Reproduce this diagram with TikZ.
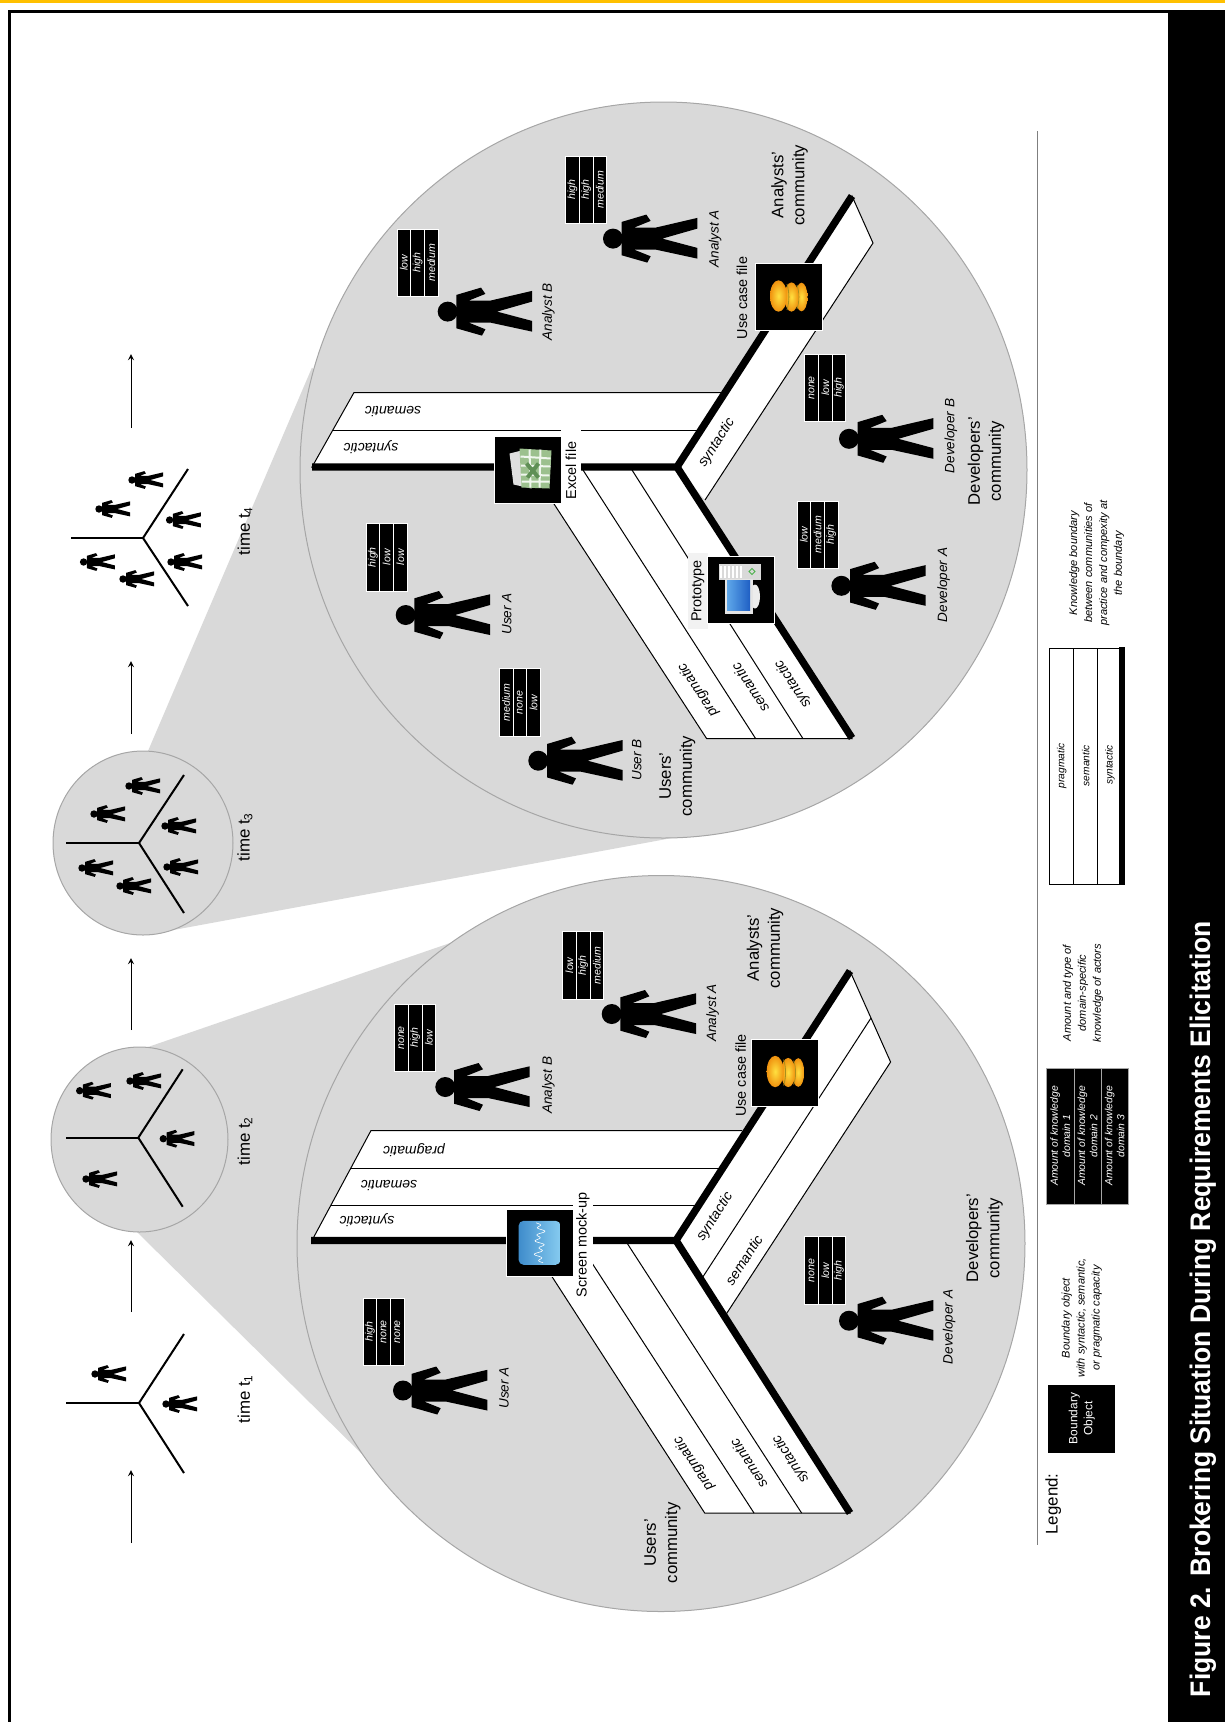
\documentclass[tikz,border=0pt]{standalone}
\usepackage{fontspec}
\setmainfont{Liberation Sans}
\definecolor{cloudgray}{HTML}{D9D9D9}
\definecolor{rimgray}{HTML}{A6A6A6}
\definecolor{rulegray}{HTML}{7F7F7F}
\definecolor{topbar}{HTML}{FFC000}
\definecolor{coinedge}{HTML}{F0920F}
\definecolor{coinglow}{HTML}{FFE040}
\definecolor{coinseam}{HTML}{A8901C}
\definecolor{sheetgreen}{HTML}{9CC08E}
\definecolor{sheetmark}{HTML}{5F8F55}
\definecolor{screenblue}{HTML}{3F8CCB}
\definecolor{screenpale}{HTML}{86CBF0}
\definecolor{protoblue}{HTML}{1F5FC4}
\definecolor{protopale}{HTML}{5FA8EA}
\tikzset{
  actor/.pic={
    \fill (0,0) circle [radius=10];
    \fill (8.7,-16.7) -- (33.3,-24) -- (37.7,-17.7) -- (21,-11) -- (42.7,-11)
      -- (84.3,-20.7) -- (84.3,-10) -- (49.3,0) -- (84.3,9.3) -- (84.3,20)
      -- (42.7,11) -- (21,11) -- (37.7,17.7) -- (34.3,24) -- (8.7,16.7) -- cycle;
  },
  coins/.pic={
    \shade[inner color=coinglow, outer color=coinedge] (13,0) circle [x radius=6, y radius=14.3];
    \draw[coinseam, line width=0.016cm] (8.5,-12) .. controls (11,-4) and (11,4) .. (8.5,12);
    \shade[inner color=coinglow, outer color=coinedge] (3,0) circle [x radius=7, y radius=14.6];
    \draw[coinseam, line width=0.016cm] (-1.5,-13) .. controls (1,-4) and (1,4) .. (-1.5,13);
    \shade[inner color=coinglow, outer color=coinedge] (-10,-1) circle [x radius=8.5, y radius=15.7];
  },
  cell/.style={draw=white, fill=black, text=white, rotate=90, inner sep=0pt,
    minimum width=1.35cm, minimum height=0.274cm,
    font=\fontsize{6}{6}\selectfont\itshape},
  who/.style={rotate=90, font=\fontsize{7.7}{9}\selectfont\itshape},
  community/.style={rotate=90, align=center, inner sep=0pt,
    font=\fontsize{9.5}{12}\selectfont},
  capacity/.style={font=\fontsize{8}{9}\selectfont\itshape, inner sep=0pt},
  moment/.style={rotate=90, inner sep=0pt, font=\fontsize{9.6}{11}\selectfont},
  iconbox/.style={draw=white, fill=black, minimum size=1.34cm, inner sep=0pt},
  objlabel/.style={rotate=90, inner sep=0pt, font=\fontsize{8.2}{9}\selectfont},
  legendnote/.style={rotate=90, align=center, inner sep=0pt,
    font=\fontsize{6.3}{8.5}\selectfont\itshape},
  legendcell/.style={draw=rimgray, fill=black, text=white, rotate=90, align=center,
    inner sep=0pt, minimum width=2.72cm, minimum height=0.544cm,
    font=\fontsize{5.9}{6.9}\selectfont\itshape},
  legendtag/.style={rotate=90, inner sep=0pt, font=\fontsize{5.8}{7}\selectfont\itshape},
  bigline/.style={line width=0.146cm},
  minline/.style={line width=0.04cm},
  thinline/.style={line width=0.02cm}
}
% knowledge stack: name, left, top, three amounts
\newcommand{\kstack}[6]{
  \node[cell] (#1a) at (#2+6.85,#3+33.85) {#4};
  \node[cell] (#1b) at (#2+20.55,#3+33.85) {#5};
  \node[cell] (#1c) at (#2+34.25,#3+33.85) {#6};
}
% small boundary: centre, left end, upper end, lower end
\newcommand{\minifork}[7]{
  \draw[minline] (#2,#3) -- (66+#1,#3);
  \draw[minline] (#4,#5) -- (#2,#3) -- (#6,#7);
}
\begin{document}
\begin{tikzpicture}[x=0.02cm, y=-0.02cm, >=stealth]
\useasboundingbox (0,0) rectangle (1225,1722);
% Page furniture
\fill[topbar] (0,0) rectangle (1225,3);
\draw[line width=0.06cm] (1168,11.5) -- (9.5,11.5) -- (9.5,1722);
\fill (1168,10) rectangle (1225,1722);
\node[rotate=90, yscale=1.07, anchor=base, text=white, inner sep=0pt,
  font=\fontsize{15.05}{18}\selectfont\bfseries] (figtitle) at (1210,1309)
  {Figure 2.\hspace{0.4em}Brokering Situation During Requirements Elicitation};
% Zoom cones and circles
\fill[cloudgray] (148,751) -- (312,367.5) -- (672,838) -- (168,931) -- cycle;
\fill[cloudgray] (148,1047) -- (453,942) -- (367,1459) -- (137,1232) -- cycle;
\filldraw[fill=cloudgray, draw=rimgray, thinline] (663.5,470) circle [x radius=363.5, y radius=368];
\filldraw[fill=cloudgray, draw=rimgray, thinline] (661,1243.5) circle [x radius=364, y radius=368];
\filldraw[fill=cloudgray, draw=rimgray, thinline] (143,843) circle [x radius=90, y radius=92];
\filldraw[fill=cloudgray, draw=rimgray, thinline] (139.5,1139.5) circle [x radius=88.5, y radius=92.5];
% Timeline arrows
\draw[->, thinline] (131,1543) -- (131,1470);
\draw[->, thinline] (131,1312) -- (131,1240);
\draw[->, thinline] (131,1030) -- (131,958);
\draw[->, thinline] (131,734) -- (131,661);
\draw[->, thinline] (131,428) -- (131,354);
% Small boundaries with their actors
\minifork{0}{139}{1403}{184}{1334}{184}{1473}
\pic[scale=0.37] at (95,1374) {actor};
\pic[scale=0.37] at (166,1404) {actor};
\node[moment] (timeone) at (245,1399) {time t\textsubscript{1}};
\minifork{0}{138.3}{1137.7}{182.7}{1069.3}{182.7}{1206.7}
\pic[scale=0.37] at (79.7,1090.7) {actor};
\pic[scale=0.37] at (130,1081) {actor};
\pic[scale=0.37] at (163.3,1138.7) {actor};
\pic[scale=0.37] at (86,1179) {actor};
\node[moment] (timetwo) at (245,1141) {time t\textsubscript{2}};
\minifork{0}{139}{843}{184}{775}{184}{913}
\pic[scale=0.37] at (94,814) {actor};
\pic[scale=0.37] at (129,786) {actor};
\pic[scale=0.37] at (165,826) {actor};
\pic[scale=0.37] at (82,868) {actor};
\pic[scale=0.37] at (120,886) {actor};
\pic[scale=0.37] at (167,867) {actor};
\node[moment] (timethree) at (245,837) {time t\textsubscript{3}};
\minifork{5}{143}{538}{188}{469}{188}{606}
\pic[scale=0.37] at (132,480) {actor};
\pic[scale=0.37] at (99,509) {actor};
\pic[scale=0.37] at (169.6,520) {actor};
\pic[scale=0.37] at (83.6,562) {actor};
\pic[scale=0.37] at (123,579) {actor};
\pic[scale=0.37] at (171,562) {actor};
\node[moment] (timefour) at (245,531) {time t\textsubscript{4}};
% Upper fork: bands
\filldraw[fill=white, thinline] (677,467) -- (312,467) -- (354,392.5) -- (722,392.5);
\draw[thinline] (332.7,430) -- (697,430);
\filldraw[fill=white, thinline] (677,467) -- (852,196) -- (873,243) -- (705,500);
\filldraw[fill=white, thinline] (530,467) -- (706.7,738.7) -- (852,738.7) -- (677,467) -- cycle;
\draw[thinline] (583,470) -- (755.7,738.7);
\draw[thinline] (632,470) -- (803,738.7);
\draw[bigline] (312,467) -- (677,467) -- (852,196);
\draw[bigline] (677,467) -- (852,738);
\node[capacity, rotate=180] (upsem) at (393,411.4) {semantic};
\node[capacity, rotate=180] (upsyn) at (371,447) {syntactic};
\node[capacity, rotate=57] (upsynb) at (716.7,443) {syntactic};
\node[capacity, rotate=123] (upprag) at (698,690) {pragmatic};
\node[capacity, rotate=123] (upsemc) at (750,688) {semantic};
\node[capacity, rotate=123] (upsync) at (793,684) {syntactic};
% Lower fork: bands
\filldraw[fill=white, thinline] (676,1240.4) -- (312,1240.4) -- (371,1130.5) -- (742,1130.5);
\draw[thinline] (351,1168) -- (719,1168);
\draw[thinline] (331,1205) -- (695,1205);
\filldraw[fill=white, thinline] (676,1240.4) -- (850,971) -- (890.6,1062) -- (726.6,1313.5);
\draw[thinline] (871,1018) -- (703,1276.7);
\filldraw[fill=white, thinline] (528.6,1240.4) -- (704.7,1513) -- (850,1513) -- (676,1240.4) -- cycle;
\draw[thinline] (579,1243) -- (754,1513);
\draw[thinline] (627,1243) -- (801.6,1513);
\draw[bigline] (311,1240.4) -- (676,1240.4) -- (850,971);
\draw[bigline] (676,1240.4) -- (850,1513);
\node[capacity, rotate=180] (lowprag) at (414,1149.7) {pragmatic};
\node[capacity, rotate=180] (lowsem) at (389,1186) {semantic};
\node[capacity, rotate=180] (lowsyn) at (367,1220) {syntactic};
\node[capacity, rotate=57] (lowsynb) at (715,1217) {syntactic};
\node[capacity, rotate=57] (lowsemb) at (743.8,1260) {semantic};
\node[capacity, rotate=123] (lowpragc) at (693.8,1463.6) {pragmatic};
\node[capacity, rotate=123] (lowsemc) at (748.4,1463.6) {semantic};
\node[capacity, rotate=123] (lowsync) at (790.6,1459) {syntactic};
% Boundary objects, upper circle
\node[objlabel, fill=white, minimum width=1.66cm, minimum height=0.4cm] (excellabel) at (571,470.5) {Excel file};
\node[iconbox] (excelbox) at (527.5,469.5) {};
\begin{scope}[shift={(527.5,469.5)}]
  \fill[white!75!gray] (-18,-16) -- (-2,-20) -- (4,19) -- (-14,15) -- cycle;
  \fill[sheetgreen] (-8,-21) -- (24,-19) -- (22,19) -- (-6,18) -- cycle;
  \draw[white!85!sheetgreen, line width=0.04cm] (-7,-13) -- (23,-11) (-6.5,-4) -- (23,-3) (-6.5,5) -- (22,6) (-6,12) -- (22,12)
    (2,-20) -- (3,18) (13,-20) -- (12,18);
  \draw[sheetmark, line width=0.08cm] (-1,-6) -- (11,8) (11,-6) -- (0,8);
\end{scope}
\node[objlabel, fill=black!5, minimum width=1.52cm, minimum height=0.4cm] (protolabel) at (698,591) {Prototype};
\node[iconbox] (protobox) at (741,589.5) {};
\begin{scope}[shift={(741,589.5)}]
  \fill[white!70!gray] (-22,-26) rectangle (20,-10);
  \draw[white, line width=0.03cm] (-20,-24) -- (-20,-12) (-16,-24) -- (-16,-12) (-12,-24) -- (-12,-12) (-8,-24) -- (-8,-12) (-4,-24) -- (-4,-12) (0,-24) -- (0,-12);
  \draw[green!40!gray, line width=0.02cm] (11,-21) -- (14,-18) -- (11,-15) -- (8,-18) -- cycle;
  \fill[white!85!gray] (14,7) circle [x radius=5, y radius=12];
  \fill[white!80!gray] (-16,-11) rectangle (12,24);
  \fill[left color=protopale, right color=protoblue] (-14,-9) rectangle (9,21);
\end{scope}
\node[objlabel] (usecaselabel) at (742,298) {Use case file};
\node[iconbox] (usecasebox) at (788.5,297) {};
\pic at (788.5,297) {coins};
% Boundary objects, lower circle
\node[objlabel, fill=white, minimum width=2.16cm, minimum height=0.4cm] (screenlabel) at (583,1245) {Screen mock-up};
\node[iconbox] (screenbox) at (539.6,1242.8) {};
\begin{scope}[shift={(539.6,1242.8)}]
  \fill[rounded corners=0.1cm, left color=screenblue, right color=screenpale] (-21,-22) rectangle (21,22);
  \draw[white, line width=0.012cm] plot[domain=-20:20, samples=50, variable=\t]
    ({3*sin(\t*55)+2.5*sin(\t*23)},{\t});
\end{scope}
\node[objlabel] (usecaselabelb) at (740.6,1075.5) {Use case file};
\node[iconbox] (usecaseboxb) at (785.2,1072.5) {};
\pic at (785.2,1072.5) {coins};
% Actors, upper circle
\pic at (613,238.6) {actor};
\kstack{ana}{565.6}{156}{high}{high}{medium}
\node[who] (ananame) at (715,238.6) {Analyst A};
\pic at (447.7,311.6) {actor};
\kstack{anb}{397}{229}{low}{high}{medium}
\node[who] (anbname) at (548.4,311.6) {Analyst B};
\pic at (849,438.8) {actor};
\kstack{dvb}{804.7}{354}{none}{low}{high}
\node[who] (dvbname) at (950.8,436) {Developer B};
\pic at (841.4,585.8) {actor};
\kstack{dva}{797}{501}{low}{medium}{high}
\node[who] (dvaname) at (943.7,585) {Developer A};
\pic at (405.7,615) {actor};
\kstack{usa}{366}{523.3}{high}{low}{low}
\node[who] (usaname) at (506.7,614) {User A};
\pic at (538.3,760.7) {actor};
\kstack{usb}{499.3}{668.7}{medium}{none}{low}
\node[who] (usbname) at (636.7,760) {User B};
% Actors, lower circle
\pic at (611.7,1014) {actor};
\kstack{lana}{562.5}{931.5}{low}{high}{medium}
\node[who] (lananame) at (712.5,1013) {Analyst A};
\pic at (445.3,1087) {actor};
\kstack{lanb}{394.5}{1004}{none}{high}{low}
\node[who] (lanbname) at (548.4,1085.4) {Analyst B};
\pic at (403,1390.5) {actor};
\kstack{lusa}{363}{1298}{high}{none}{none}
\node[who] (lusaname) at (504,1388) {User A};
\pic at (849,1320.7) {actor};
\kstack{ldva}{804.7}{1236.6}{none}{low}{high}
\node[who] (ldvaname) at (949,1327) {Developer A};
% Communities
\node[community] (users) at (677.3,776) {Users'\\community};
\node[community] (developers) at (986,461) {Developers'\\community};
\node[community] (analysts) at (789.5,185) {Analysts'\\community};
\node[community] (usersb) at (662.5,1542.8) {Users'\\community};
\node[community] (developersb) at (984.4,1238) {Developers'\\community};
\node[community] (analystsb) at (765,948) {Analysts'\\community};
% Legend
\draw[rulegray, line width=0.026cm] (1037.7,131) -- (1037.7,1545);
\node[rotate=90, inner sep=0pt, font=\fontsize{9.6}{11}\selectfont] (legendhead) at (1053.3,1504) {Legend:};
\node[draw=black, fill=black, text=white, rotate=90, align=center, inner sep=0pt,
  minimum width=1.34cm, minimum height=1.32cm, font=\fontsize{6.8}{8.5}\selectfont] (legendobj) at (1081.7,1418.5) {Boundary\\Object};
\node[legendnote] (legendobjnote) at (1081.7,1318) {Boundary object\\with syntactic, semantic,\\or pragmatic capacity};
\node[legendcell] (legenda) at (1060.3,1136) {Amount of knowledge\\domain 1};
\node[legendcell] (legendb) at (1087.5,1136) {Amount of knowledge\\domain 2};
\node[legendcell] (legendc) at (1114.7,1136) {Amount of knowledge\\domain 3};
\node[legendnote] (legendcellnote) at (1083,993) {Amount and type of\\domain-specific\\knowledge of actors};
\draw[thinline] (1119,648.3) -- (1049.3,648.3) -- (1049.3,884) -- (1119,884);
\draw[thinline] (1073.3,648.3) -- (1073.3,884);
\draw[thinline] (1097.7,648.3) -- (1097.7,884);
\fill (1119,647.3) rectangle (1125.3,885);
\node[legendtag] (legendprag) at (1061.7,765.7) {pragmatic};
\node[legendtag] (legendsem) at (1085.7,765.7) {semantic};
\node[legendtag] (legendsyn) at (1110,765) {syntactic};
\node[legendnote] (legendforknote) at (1096.7,563) {Knowledge boundary\\between communities of\\practice and compexity at\\the boundary};
\end{tikzpicture}
\end{document}
